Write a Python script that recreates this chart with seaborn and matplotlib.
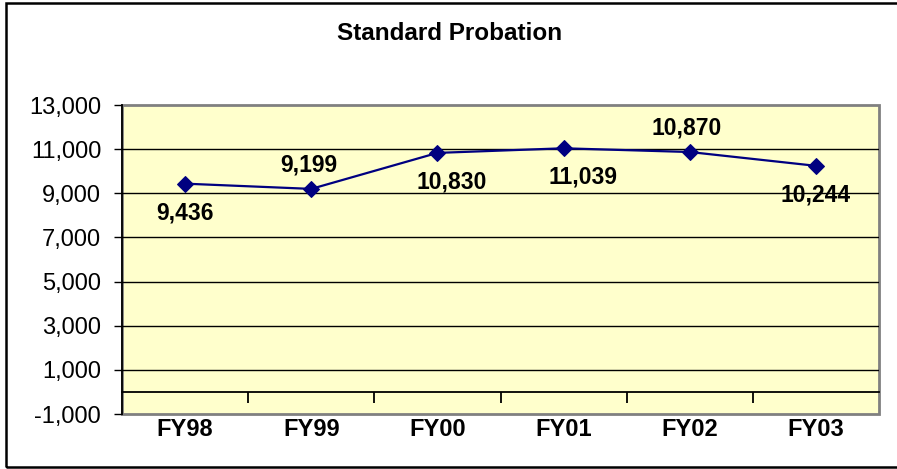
import matplotlib
matplotlib.use('Agg')
import matplotlib.pyplot as plt
import matplotlib.patches as mpatches
from matplotlib.ticker import FixedLocator, FuncFormatter
import seaborn as sns
import pandas as pd

years = ['FY98', 'FY99', 'FY00', 'FY01', 'FY02', 'FY03']
cases = [9436, 9199, 10830, 11039, 10870, 10244]
label_above = [False, True, False, False, True, False]
label_dx = [0, -2, 10, 14, -2, 0]

yticks = list(range(-1000, 13001, 2000))
gridvals = list(range(1000, 12000, 2000))

sns.set_theme(style='white')
plt.rcParams['font.family'] = ['Liberation Sans', 'DejaVu Sans']
plt.rcParams['text.color'] = 'black'
plt.rcParams['xtick.labelcolor'] = 'black'
plt.rcParams['ytick.labelcolor'] = 'black'

df = pd.DataFrame({'year': years, 'cases': cases})

fig = plt.figure(figsize=(8.97, 4.69), dpi=100)
ax = fig.add_axes([122 / 897, 55 / 469, 757 / 897, 309 / 469])
ax.set_facecolor('#FFFFCC')

for g in gridvals:
    ax.axhline(g, color='black', lw=1, zorder=1)

sns.lineplot(data=df, x='year', y='cases', sort=False, color='#000080',
             marker='D', markersize=8, markeredgecolor='#000080', lw=1.6,
             ax=ax, zorder=3)

ax.set_xlim(-0.5, len(years) - 0.5)
ax.set_ylim(-1000, 13000)
ax.set_yticks(yticks)
ax.yaxis.set_major_formatter(FuncFormatter(lambda v, p: f'{int(v):,}'))
ax.tick_params(axis='y', which='major', direction='out', length=6, width=1,
               color='black', labelsize=17, pad=9, left=True)

# category axis sits at y = 0 like the Excel original
ax.spines['bottom'].set_position(('data', 0))
ax.spines['bottom'].set_color('black')
ax.spines['bottom'].set_linewidth(1.3)
ax.xaxis.set_minor_locator(FixedLocator([i + 0.5 for i in range(len(years) - 1)]))
ax.tick_params(axis='x', which='minor', direction='out', length=8, width=1.3,
               color='black', bottom=True)
ax.tick_params(axis='x', which='major', length=0, pad=19, labelsize=17)
for t in ax.get_xticklabels():
    t.set_fontweight('bold')

ax.spines['left'].set_color('black')
ax.spines['left'].set_linewidth(1.3)
ax.spines['top'].set_visible(False)
ax.spines['right'].set_visible(False)
ax.add_patch(mpatches.Rectangle((0, 0), 1, 1, transform=ax.transAxes, fill=False,
                                edgecolor='#808080', lw=2, zorder=0.5, clip_on=False))
ax.set_xlabel('')
ax.set_ylabel('')

for i, (v, up, dx) in enumerate(zip(cases, label_above, label_dx)):
    ax.annotate(f'{v:,}', (i, v), xytext=(dx, 17 if up else -21),
                textcoords='offset points', ha='center', va='center',
                fontsize=16.5, fontweight='bold', color='black', zorder=4)

fig.text(450 / 897, 1 - 33 / 469, 'Standard Probation', ha='center', va='center',
         fontsize=17.5, fontweight='bold', color='black')

fig.patches.append(mpatches.Rectangle((5.5 / 897, 2.5 / 469), 1.2, 1 - 6 / 469,
                                      transform=fig.transFigure, fill=False,
                                      edgecolor='black', lw=1.8))

fig.savefig('out.png', dpi=100)
